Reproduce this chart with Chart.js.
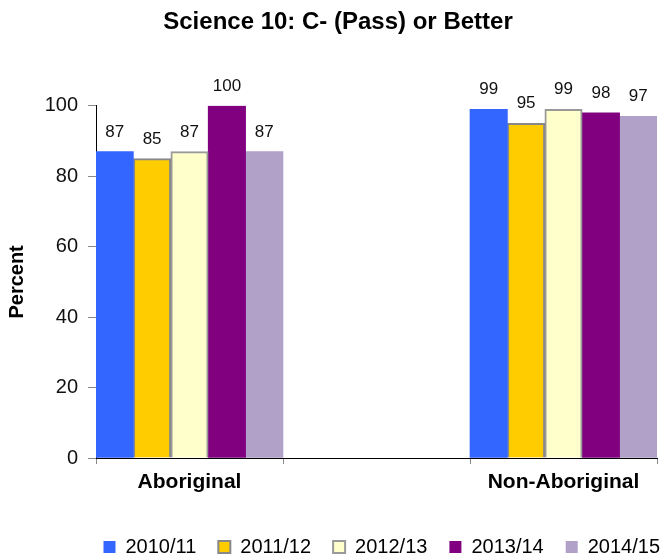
<!DOCTYPE html>
<html>
<head>
<meta charset="utf-8">
<script src="https://cdn.jsdelivr.net/npm/chart.js@4"></script>
<style>
  html, body { margin: 0; padding: 0; background: #fff; }
  #wrap { width: 663px; height: 554px; }
</style>
</head>
<body>
<div id="wrap"><canvas id="chart"></canvas></div>
<script>
// groups (the empty middle slot keeps the gap between the two groups)
const groups = ['Aboriginal', '', 'Non-Aboriginal'];
const years = ['2010/11', '2011/12', '2012/13', '2013/14', '2014/15'];
const aboriginal = [87, 85, 87, 100, 87];
const nonAboriginal = [99, 95, 99, 98, 97];
const yTicks = [0, 20, 40, 60, 80, 100];

const fills = ['#3366FF', '#FFCC00', '#FFFFCC', '#800080', '#B1A0C7'];
const borders = ['#3366FF', '#888888', '#999999', '#800080', '#B1A0C7'];
const borderWidths = [0, 2, 2, 0, 0];

const datasets = years.map((y, i) => ({
    label: y,
    data: [aboriginal[i], null, nonAboriginal[i]],
    backgroundColor: fills[i],
    borderColor: borders[i],
    borderWidth: borderWidths[i],
    borderSkipped: 'bottom',
    categoryPercentage: 1.0,
    barPercentage: 1.0
}));

// draws the value over each bar
const valueLabels = {
    id: 'valueLabels',
    afterDatasetsDraw(chart) {
        const ctx = chart.ctx;
        ctx.save();
        ctx.font = '17px "Liberation Sans", Arial, sans-serif';
        ctx.fillStyle = '#111';
        ctx.textAlign = 'center';
        ctx.textBaseline = 'alphabetic';
        chart.data.datasets.forEach((ds, i) => {
            chart.getDatasetMeta(i).data.forEach((bar, j) => {
                if (ds.data[j] == null) return;
                ctx.fillText(String(ds.data[j]), bar.x, bar.y - 15);
            });
        });
        ctx.restore();
    }
};

// nudge the legend (lower, further right) and the title (right) like the original
const boxShift = {
    id: 'boxShift',
    afterLayout(chart) {
        const lg = chart.legend;
        lg.left += 25; lg.right += 25;
        lg.top += 13; lg.bottom += 13;
        const t = chart.titleBlock;
        if (t) { t.left += 7; t.right += 7; }
    }
};

const font = '"Liberation Sans", Arial, sans-serif';
const plotBottom = 458;

new Chart(document.getElementById('chart'), {
    type: 'bar',
    data: {labels: groups, datasets: datasets},
    plugins: [valueLabels, boxShift],
    options: {
        responsive: true,
        maintainAspectRatio: false,
        animation: false,
        layout: {padding: {left: 5, right: 6, top: 0, bottom: 0}},
        plugins: {
            title: {
                display: true,
                text: 'Science 10: C- (Pass) or Better',
                color: '#000',
                font: {family: font, size: 24, weight: 'bold'},
                padding: {top: 8, bottom: 69}
            },
            legend: {
                position: 'bottom',
                align: 'end',
                labels: {
                    color: '#000',
                    font: {family: font, size: 20},
                    boxWidth: 12,
                    boxHeight: 12,
                    padding: 22
                }
            },
            tooltip: {enabled: false}
        },
        scales: {
            x: {
                offset: true,
                grid: {
                    display: true,
                    offset: true,
                    drawOnChartArea: false,
                    tickLength: 6,
                    color: '#888'
                },
                border: {color: '#000', width: 1},
                ticks: {
                    color: '#000',
                    font: {family: font, size: 21, weight: 'bold'},
                    padding: 6
                },
                afterFit(scale) {
                    const c = scale.chart;
                    scale.height = c.height - plotBottom - c.legend.height;
                }
            },
            y: {
                min: 0,
                max: 100,
                afterBuildTicks(scale) { scale.ticks = yTicks.map(v => ({value: v})); },
                grid: {
                    display: true,
                    drawOnChartArea: false,
                    tickLength: 8,
                    color: '#888'
                },
                border: {color: '#000', width: 1},
                ticks: {
                    color: '#111',
                    font: {family: font, size: 20},
                    padding: 10
                },
                title: {
                    display: true,
                    text: 'Percent',
                    color: '#000',
                    font: {family: font, size: 20, weight: 'bold'},
                    padding: {top: 0, bottom: 20}
                },
                afterFit(scale) { scale.width = 91; }
            }
        }
    }
});
</script>
</body>
</html>
